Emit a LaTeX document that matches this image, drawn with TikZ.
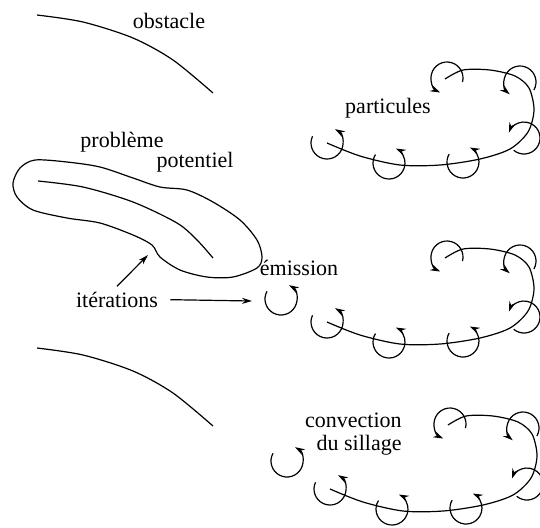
\documentclass[tikz,border=0pt]{standalone}
\usepackage{fontspec}
\setmainfont{Liberation Serif}
\usetikzlibrary{arrows.meta}

% vortex: centre x, centre y, start and end angle (as seen on the page)
\newcommand{\vortex}[4]{%
  \draw[vortex] (#1,#2) ++(-#3:16) arc[start angle=-#3, end angle=-#4, radius=16];}

\begin{document}
\begin{tikzpicture}[x=0.5pt, y=-0.5pt,
    line/.style={line width=0.6pt},
    vortex/.style={line width=0.6pt, -{Stealth[length=5pt, width=3.2pt]}},
    arr/.style={line width=0.6pt, -{Stealth[length=5pt, width=3pt]}},
    lbl/.style={anchor=base, inner sep=0pt, font=\fontsize{11}{13}\selectfont}]
  \useasboundingbox (0,0) rectangle (540,527);

  % obstacle
  \foreach \dy in {0,333}
    \draw[line] plot[smooth] coordinates {(37,15+\dy) (83,22+\dy) (133,38+\dy) (173,60+\dy) (213,93+\dy)};
  \node[lbl] (obst) at (169,28) {obstacle};

  % probleme potentiel
  \draw[line] plot[smooth cycle] coordinates {(35,160) (67,162) (100,167) (133,178) (160,187)
    (187,190) (213,202) (240,220) (257,240) (262,257) (257,268) (233,277) (207,277)
    (180,270) (160,257) (152,245) (133,235) (100,223) (67,218) (33,210) (17,197)
    (13,183) (20,168)};
  \draw[line] plot[smooth] coordinates {(38,181) (83,187) (133,202) (177,223) (197,240) (213,258)};
  \node[lbl] (prob) at (122,147) {problème};
  \node[lbl] (pot) at (195,167) {potentiel};

  % particules
  \foreach \dx/\dy in {0/0, 0/179, 3/346}{
    \begin{scope}[shift={(\dx,\dy)}]
      \draw[line] plot[smooth] coordinates {(327,143) (360,156) (400,165) (440,165)
        (480,159) (510,149) (528,132) (534,110) (529,88) (515,76) (490,70) (463,70) (445,79)};
      \vortex{327}{143}{155}{420}
      \vortex{389}{163}{148}{425}
      \vortex{463}{162}{150}{425}
      \vortex{524}{138}{230}{520}
      \vortex{520}{82}{330}{590}
      \vortex{447}{78}{345}{605}
    \end{scope}
  }
  \node[lbl] (part) at (388,113) {particules};

  % emission
  \vortex{281}{299}{151}{420}
  \node[lbl] (emis) at (299,275) {émission};

  % convection
  \vortex{287}{461}{151}{420}
  \node[lbl, anchor=base east] (conv) at (402,427) {convection};
  \node[lbl, anchor=base east] (sill) at (402,450) {du sillage};

  % iterations
  \node[lbl] (iter) at (117,307) {itérations};
  \coordinate (emistip) at (252,301);
  \coordinate (blobtip) at (148,255);
  \draw[arr, shorten <=6pt] (iter.east) -- (emistip);
  \draw[arr, shorten <=3.5pt] ([xshift=-2.5pt]iter.north) -- (blobtip);
\end{tikzpicture}
\end{document}
